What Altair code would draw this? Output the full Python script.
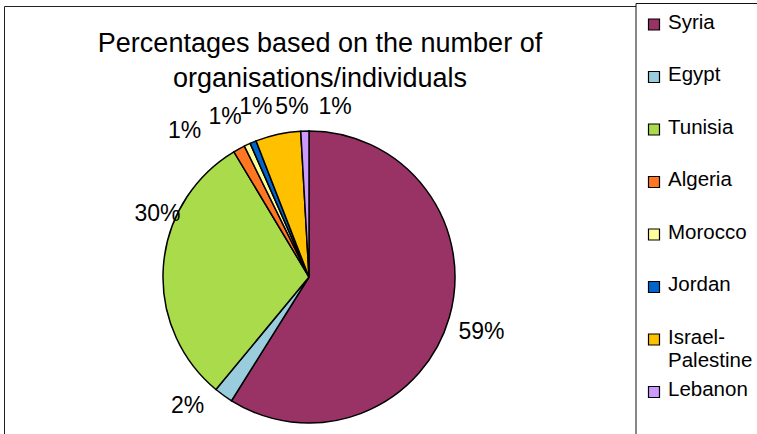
import math
import altair as alt
import pandas as pd

# ---------------- data ----------------
countries = ["Syria", "Egypt", "Tunisia", "Algeria", "Morocco", "Jordan",
             "Israel-Palestine", "Lebanon"]
shares = [58.9, 2.1, 30.4, 1.3, 0.7, 0.7, 5.0, 0.9]
legend_labels = ["Syria", "Egypt", "Tunisia", "Algeria", "Morocco", "Jordan",
                 "Israel-\nPalestine", "Lebanon"]
colors = ["#993366", "#99CCDD", "#AADB4A", "#FF7722", "#FFFF99", "#0066CC",
          "#FFC000", "#CC99FF"]
title_text = "Percentages based on the number of\norganisations/individuals"

# ---------------- layout / style ----------------
FONT = "Liberation Sans"
CX, CY, R = 309, 277, 146
LABEL_R = 170
# label nudges (dx, dy), mimicking the spreadsheet's label collision avoidance
label_nudge = {
    "Syria": (9, 8), "Egypt": (-22, -9), "Tunisia": (18, -50),
    "Algeria": (-43, 3), "Morocco": (-12, -6), "Jordan": (12, -13),
    "Israel-Palestine": (19, -4), "Lebanon": (31, 0),
}

df = pd.DataFrame({
    "country": countries,
    "share": shares,
    "idx": list(range(len(countries))),
    "legend_label": legend_labels,
})

total = sum(shares)
theta_scale = alt.Scale(domain=[0, total], range=[0, 2 * math.pi])
color_scale = alt.Scale(domain=countries, range=colors)

one = alt.Data(values=[{"t": title_text}])

outer_frame = alt.Chart(one).mark_rect(filled=False, stroke="#222", strokeWidth=1).encode(
    x=alt.value(4.5), y=alt.value(6.5), x2=alt.value(900), y2=alt.value(600))

legend_frame = alt.Chart(one).mark_rect(fill="white", stroke="#111", strokeWidth=1).encode(
    x=alt.value(636), y=alt.value(3.5), x2=alt.value(900), y2=alt.value(600))

title = alt.Chart(one).mark_text(
    font=FONT, fontSize=27, lineBreak="\n", lineHeight=35, align="center",
    baseline="top", color="black").encode(
    x=alt.value(320), y=alt.value(31), text="t:N")

pie = alt.Chart(df).mark_arc(radius=R, stroke="black", strokeWidth=1.5).encode(
    theta=alt.Theta("share:Q", stack=True, scale=theta_scale),
    color=alt.Color("country:N", scale=color_scale, legend=None),
    order=alt.Order("idx:Q"),
    x=alt.value(CX), y=alt.value(CY),
)

base_labels = alt.Chart(df).transform_window(
    cum="sum(share)", sort=[alt.SortField("idx")], frame=[None, 0]
).transform_calculate(
    mid="datum.cum - datum.share / 2",
    lab="round(datum.share) + '%'",
)

label_layers = []
for c in countries:
    dx, dy = label_nudge[c]
    label_layers.append(
        base_labels.transform_filter(alt.datum.country == c).mark_text(
            radius=LABEL_R, dx=dx, dy=dy, font=FONT, fontSize=23,
            align="center", baseline="middle", color="black").encode(
            theta=alt.Theta("mid:Q", stack=None, scale=theta_scale),
            text="lab:N",
            x=alt.value(CX), y=alt.value(CY),
        )
    )

legend_y = alt.Y("idx:Q", scale=alt.Scale(domain=[0, 7], range=[24.5, 392], nice=False, zero=False), axis=None)

legend_sq = alt.Chart(df).mark_square(size=121, filled=True, opacity=1, stroke="black", strokeWidth=1.2).encode(
    x=alt.value(654), y=legend_y,
    color=alt.Color("country:N", scale=color_scale, legend=None),
)

legend_txt = alt.Chart(df).mark_text(
    font=FONT, fontSize=20.5, align="left", baseline="top", dy=-12,
    lineBreak="\n", lineHeight=23, color="black").encode(
    x=alt.value(668), y=legend_y, text="legend_label:N")

chart = alt.layer(
    outer_frame, legend_frame, title, pie, *label_layers, legend_sq, legend_txt
).properties(
    width=757, height=434, padding=0,
    autosize=alt.AutoSizeParams(type="none"),
    background="white",
).configure_view(stroke=None)

chart.save("out.html", embed_options={"renderer": "svg", "actions": False})
